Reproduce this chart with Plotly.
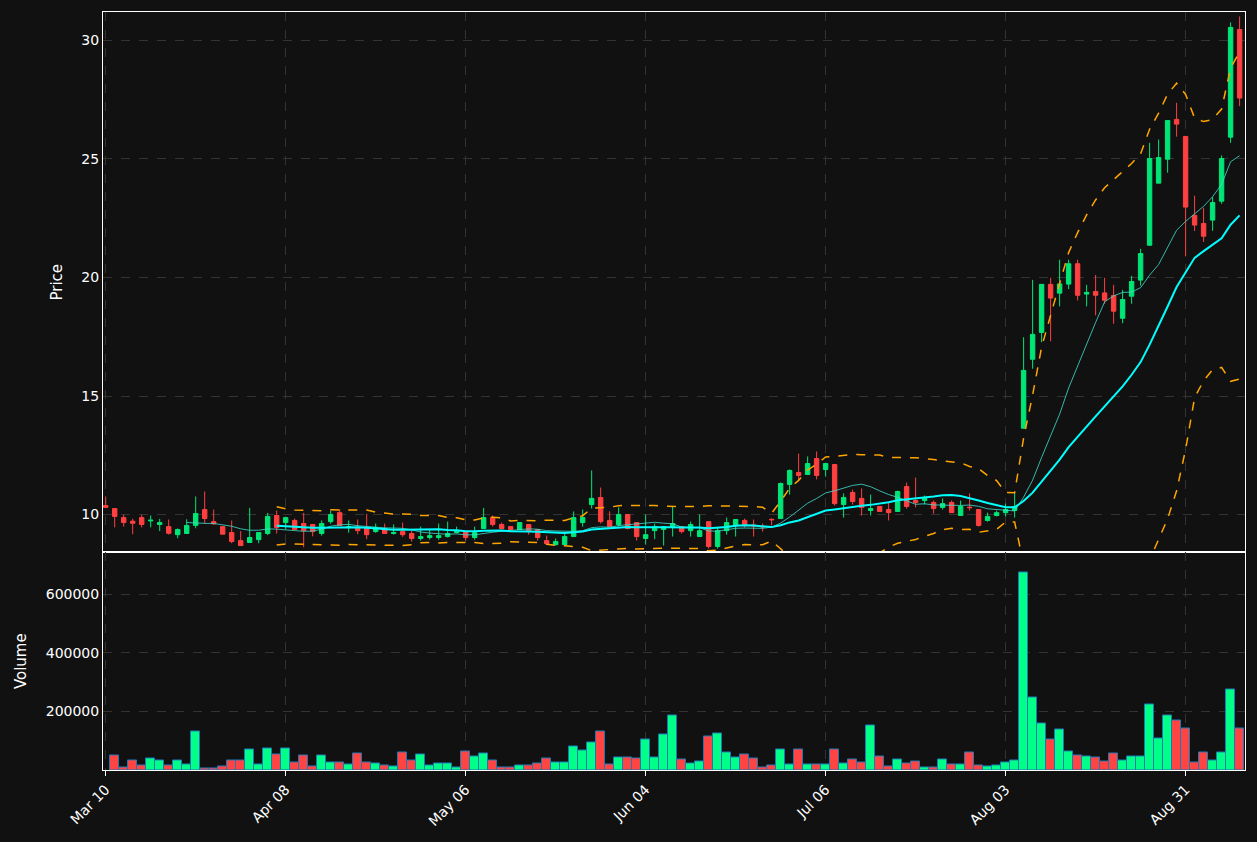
import pandas as pd
import plotly.graph_objects as go
from plotly.subplots import make_subplots

# OHLC je Handelstag (Index 0 = Mar 10)
opens = [10.38, 10.25, 9.87, 9.72, 9.87, 9.73, 9.58, 9.49, 9.15, 9.20,
         9.54, 10.21, 9.70, 9.49, 9.24, 8.90, 8.82, 8.94, 9.20, 9.96,
         9.66, 9.75, 9.62, 9.58, 9.20, 9.70, 10.08, 9.45, 9.45, 9.45,
         9.28, 9.41, 9.20, 9.28, 9.20, 8.99, 9.03, 9.03, 9.07, 9.24,
         9.28, 9.03, 9.41, 9.87, 9.58, 9.49, 9.37, 9.58, 9.37, 8.90,
         8.73, 8.73, 9.07, 9.66, 10.42, 10.72, 9.75, 9.58, 10.00, 9.66,
         8.99, 9.32, 9.37, 9.45, 9.49, 9.32, 9.07, 9.70, 8.65, 9.32,
         9.54, 9.75, 9.56, 9.50, 9.80, 9.83, 11.27, 11.77, 11.69, 12.36,
         11.90, 12.11, 10.42, 10.93, 10.68, 10.17, 10.34, 10.21, 10.13, 11.18,
         10.59, 10.59, 10.51, 10.30, 10.51, 9.96, 10.31, 10.21, 9.75, 9.96,
         10.08, 10.17, 13.64, 16.55, 17.68, 19.71, 19.34, 19.72, 20.58, 19.30,
         19.41, 19.35, 19.24, 18.28, 19.21, 19.89, 21.36, 23.98, 24.99, 26.67,
         25.95, 22.62, 22.28, 22.42, 23.22, 25.92, 30.46]
highs = [10.76, 10.25, 9.99, 9.82, 9.99, 9.96, 9.82, 9.79, 9.41, 9.80,
         10.76, 10.97, 10.21, 9.49, 9.75, 9.30, 10.28, 9.24, 10.07, 10.17,
         9.87, 9.83, 10.07, 9.58, 9.75, 10.17, 10.22, 9.75, 9.79, 10.03,
         9.62, 9.62, 9.58, 9.66, 9.32, 9.49, 9.37, 9.62, 9.70, 9.49,
         9.28, 9.49, 10.28, 9.96, 9.66, 9.49, 9.66, 9.58, 9.37, 9.11,
         8.99, 9.20, 10.13, 10.21, 11.86, 11.14, 10.13, 10.30, 10.00, 9.66,
         10.00, 9.62, 9.49, 10.34, 9.49, 9.70, 10.00, 9.70, 9.45, 9.87,
         9.79, 9.83, 9.79, 9.62, 9.83, 11.35, 11.90, 12.57, 12.45, 12.66,
         12.15, 12.11, 10.89, 11.05, 11.10, 10.84, 10.34, 10.50, 11.01, 11.35,
         11.56, 10.80, 10.59, 10.68, 10.59, 10.59, 10.89, 10.21, 10.08, 10.17,
         10.46, 10.97, 17.48, 19.90, 19.71, 19.99, 20.75, 20.75, 20.75, 19.69,
         20.11, 19.99, 19.69, 19.48, 20.07, 21.21, 25.68, 25.82, 26.62, 27.37,
         25.95, 23.45, 22.94, 23.39, 25.15, 30.76, 31.01]
lows = [10.30, 9.46, 9.49, 9.17, 9.46, 9.46, 9.30, 9.15, 9.00, 9.20,
        9.42, 9.61, 9.56, 9.17, 8.79, 8.69, 8.82, 8.79, 9.13, 9.20,
        9.37, 9.37, 8.62, 9.08, 9.11, 9.61, 9.54, 9.23, 9.17, 8.96,
        9.23, 9.20, 9.15, 9.06, 8.86, 8.90, 8.94, 8.94, 9.03, 9.20,
        8.90, 8.94, 9.41, 9.49, 9.37, 9.37, 9.37, 9.15, 8.90, 8.73,
        8.69, 8.73, 9.07, 9.49, 10.25, 9.62, 9.49, 9.49, 9.37, 8.90,
        8.73, 8.96, 8.69, 9.07, 9.20, 9.07, 9.07, 8.56, 8.56, 9.15,
        9.07, 9.45, 9.07, 9.28, 9.54, 9.83, 10.84, 11.43, 11.69, 11.48,
        11.60, 10.38, 9.87, 10.42, 9.96, 9.96, 10.13, 9.75, 10.13, 10.25,
        10.30, 10.42, 10.04, 10.21, 10.08, 9.96, 10.17, 9.49, 9.70, 9.92,
        9.92, 9.87, 13.64, 16.15, 17.27, 17.31, 18.78, 19.51, 19.03, 18.78,
        18.40, 18.89, 18.05, 18.07, 18.89, 19.66, 21.36, 23.98, 24.42, 25.94,
        20.89, 21.96, 21.50, 21.97, 23.11, 25.68, 27.23]
closes = [10.30, 9.92, 9.66, 9.63, 9.58, 9.76, 9.66, 9.21, 9.37, 9.54,
          10.04, 9.83, 9.61, 9.17, 8.86, 8.69, 9.03, 9.24, 9.92, 9.45,
          9.87, 9.37, 9.32, 9.28, 9.62, 10.00, 9.54, 9.50, 9.32, 9.15,
          9.45, 9.20, 9.24, 9.15, 8.99, 9.07, 9.11, 9.11, 9.20, 9.32,
          9.03, 9.24, 9.87, 9.58, 9.41, 9.37, 9.66, 9.28, 9.03, 8.77,
          8.86, 9.07, 9.87, 9.87, 10.68, 9.70, 9.49, 10.00, 9.41, 9.07,
          9.15, 9.49, 9.49, 9.62, 9.28, 9.58, 9.32, 8.65, 9.32, 9.66,
          9.79, 9.58, 9.52, 9.48, 9.78, 11.31, 11.86, 11.65, 12.15, 11.65,
          12.15, 10.46, 10.72, 10.55, 10.30, 10.25, 10.13, 10.08, 10.97, 10.34,
          10.51, 10.68, 10.25, 10.46, 10.08, 10.34, 10.29, 9.54, 9.92, 10.08,
          10.21, 10.34, 16.08, 17.60, 19.71, 19.13, 19.73, 20.58, 19.25, 19.37,
          19.25, 19.04, 18.58, 19.07, 19.83, 21.01, 25.02, 25.06, 26.62, 26.47,
          22.97, 22.21, 21.74, 23.16, 25.02, 30.55, 27.57]
volumes = [None, 50000, 9000, 31000, 16000, 40000, 33000, 16000, 33000, 19000,
           132000, 6000, 6000, 11000, 31000, 31000, 71000, 19000, 74000, 54000,
           74000, 27000, 50000, 12000, 50000, 26000, 26000, 19000, 58000, 27000,
           23000, 16000, 12000, 60000, 31000, 54000, 16000, 23000, 23000, 9000,
           64000, 47000, 57000, 33000, 10000, 10000, 15000, 15000, 23000, 40000,
           26000, 26000, 81000, 67000, 95000, 132000, 19000, 43000, 43000, 40000,
           105000, 43000, 122000, 187000, 36000, 23000, 30000, 115000, 125000, 60000,
           43000, 54000, 40000, 9000, 16000, 71000, 19000, 71000, 19000, 19000,
           19000, 71000, 23000, 36000, 26000, 153000, 46000, 11000, 36000, 23000,
           30000, 9000, 9000, 36000, 19000, 19000, 60000, 16000, 13000, 16000,
           26000, 33000, 673000, 249000, 160000, 105000, 139000, 64000, 50000, 47000,
           43000, 30000, 57000, 33000, 47000, 47000, 225000, 108000, 187000, 170000,
           143000, 26000, 60000, 33000, 60000, 276000, 143000]

tick_pos = [0, 20, 40, 60, 80, 100, 120]
tick_text = ["Mar 10", "Apr 08", "May 06", "Jun 04", "Jul 06", "Aug 03", "Aug 31"]

df = pd.DataFrame({"open": opens, "high": highs, "low": lows, "close": closes, "volume": volumes})
df["x"] = range(len(df))
df["sma10"] = df["close"].rolling(10).mean()
df["sma20"] = df["close"].rolling(20).mean()
std20 = df["close"].rolling(20).std()
df["bb_up"] = df["sma20"] + 2 * std20
df["bb_lo"] = df["sma20"] - 2 * std20

GREEN = "#00e676"
RED = "#ff4040"

fig = make_subplots(rows=2, cols=1, shared_xaxes=True, vertical_spacing=0.0,
                    row_heights=[0.713, 0.287])

fig.add_trace(go.Candlestick(x=df["x"], open=df["open"], high=df["high"], low=df["low"], close=df["close"],
                             increasing=dict(line=dict(color=GREEN, width=1), fillcolor=GREEN),
                             decreasing=dict(line=dict(color=RED, width=1), fillcolor=RED),
                             whiskerwidth=0, name="OHLC"), row=1, col=1)
fig.add_trace(go.Scatter(x=df["x"], y=df["bb_up"], mode="lines", line=dict(color="orange", width=1.5, dash="dash"), name="BB up"), row=1, col=1)
fig.add_trace(go.Scatter(x=df["x"], y=df["bb_lo"], mode="lines", line=dict(color="orange", width=1.5, dash="dash"), name="BB lo"), row=1, col=1)
fig.add_trace(go.Scatter(x=df["x"], y=df["sma10"], mode="lines", line=dict(color="rgba(64,224,208,0.8)", width=1), name="SMA10"), row=1, col=1)
fig.add_trace(go.Scatter(x=df["x"], y=df["sma20"], mode="lines", line=dict(color="#00ffff", width=2), name="SMA20"), row=1, col=1)

vol_colors = ["#00ff88" if c >= o else "#ff4444" for o, c in zip(opens, closes)]
fig.add_trace(go.Bar(x=df["x"], y=df["volume"], marker=dict(color=vol_colors, line=dict(color="#1f77b4", width=1)),
                     name="Volume"), row=2, col=1)

axis_style = dict(showline=True, linecolor="white", mirror=True, gridcolor="#333333", griddash="dash",
                  zeroline=False, tickfont=dict(color="white", size=14), title_font=dict(color="white", size=15))
fig.update_xaxes(**axis_style, range=[-0.3, 126.6], rangeslider_visible=False)
fig.update_xaxes(tickvals=tick_pos, ticktext=tick_text, tickangle=-45, ticks="outside", tickcolor="white",
                 ticklen=5, row=2, col=1)
fig.update_yaxes(**axis_style)
fig.update_yaxes(title_text="Price", range=[8.4, 31.2], tickvals=[10, 15, 20, 25, 30], row=1, col=1)
fig.update_yaxes(title_text="Volume", range=[0, 742000], tickvals=[200000, 400000, 600000],
                 tickformat="d", row=2, col=1)

fig.update_layout(
    width=1257, height=842,
    paper_bgcolor="#111111", plot_bgcolor="#111111",
    font=dict(family="DejaVu Sans", color="white"),
    showlegend=False, bargap=0,
    margin=dict(l=103, r=12, t=12, b=72),
)
fig.write_html("out.html", config={"displayModeBar": False},
               post_script="document.body.style.margin='0';document.body.style.background='#111111';")
